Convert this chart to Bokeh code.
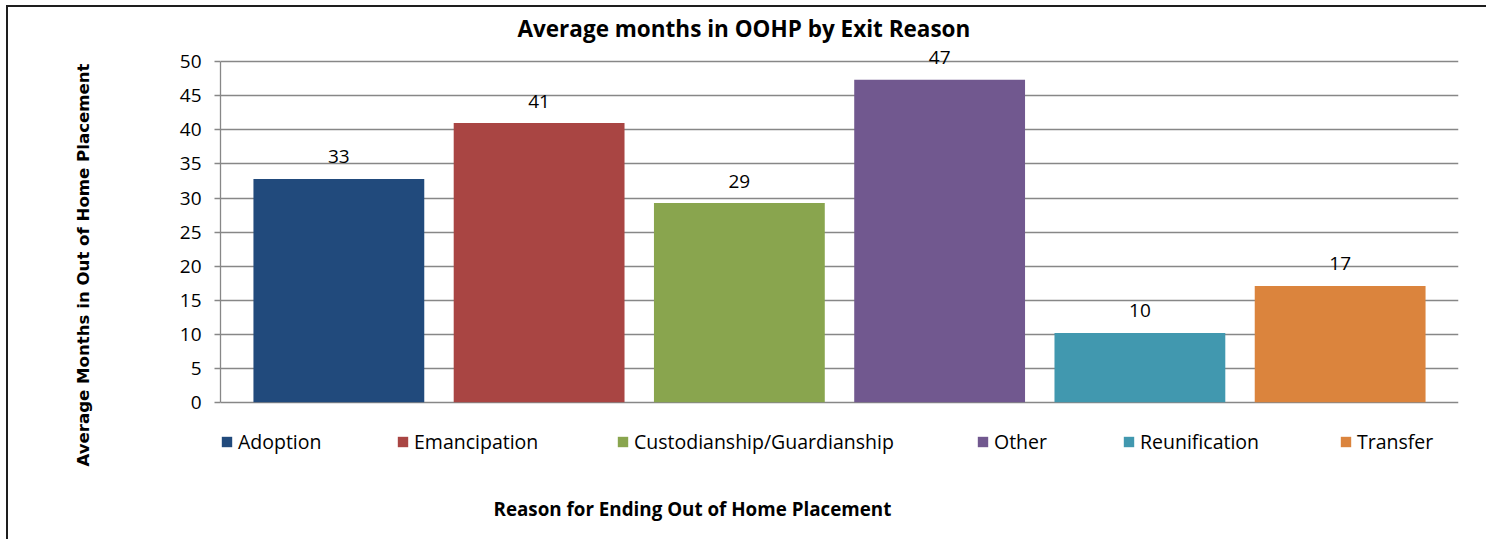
from bokeh.plotting import figure
from bokeh.models import (ColumnDataSource, FactorRange, Range1d, FixedTicker,
                          Legend, LegendItem, Title)
from bokeh.core.properties import value
from bokeh.embed import file_html
from bokeh.resources import INLINE

# ---- data ----
categories = ["Adoption", "Emancipation", "Custodianship/Guardianship",
              "Other", "Reunification", "Transfer"]
avg_months = [32.8, 41.0, 29.25, 47.35, 10.2, 17.1]
value_labels = ["33", "41", "29", "47", "10", "17"]
bar_colors = ["#214A7C", "#A94543", "#89A54E", "#71588F", "#4198AF", "#DB843D"]
y_ticks = [0, 5, 10, 15, 20, 25, 30, 35, 40, 45, 50]

title_text = "Average months in OOHP by Exit Reason"
y_title = "Average Months in Out of Home Placement"
x_title = "Reason for Ending Out of Home Placement"

src = ColumnDataSource(dict(cat=categories, val=avg_months,
                            lab=value_labels, color=bar_colors))

FONT = "Open Sans"
GRID = "#878787"

p = figure(width=1480, height=534,
           x_range=FactorRange(factors=categories, range_padding=0.091,
                               range_padding_units="absolute"),
           y_range=Range1d(-11.91, 52.24),
           output_backend="svg", toolbar_location=None,
           min_border_left=212, min_border_right=30,
           min_border_top=38, min_border_bottom=58,
           styles={"margin-left": "6px", "margin-top": "5px",
                   "border-top": "2px solid #1e1e1e",
                   "border-left": "2px solid #1e1e1e"})
p.outline_line_color = None
p.background_fill_color = "white"
p.border_fill_color = "white"

r = p.vbar(x="cat", top="val", width=0.853, source=src,
           fill_color="color", line_color=None)

p.text(x="cat", y="val", text="lab", source=src,
       text_align="center", text_baseline="alphabetic", y_offset=-22,
       text_font=value(FONT), text_font_size="19px", text_color="black")

# axes
p.xaxis.visible = False
p.xgrid.visible = False

yax = p.yaxis[0]
yax.ticker = FixedTicker(ticks=y_ticks)
yax.bounds = (0, 50)
yax.axis_line_color = GRID
yax.axis_line_width = 1.3
yax.major_tick_line_color = GRID
yax.major_tick_line_width = 1.3
yax.major_tick_out = 6
yax.major_tick_in = 0
yax.minor_tick_line_color = None
yax.major_label_standoff = 13
yax.major_label_text_font = FONT
yax.major_label_text_font_size = "19px"
yax.major_label_text_color = "black"
yax.axis_label = y_title
yax.axis_label_text_font = "DejaVu Sans"
yax.axis_label_text_font_style = "bold"
yax.axis_label_text_font_size = "16.6px"
yax.axis_label_text_color = "black"
yax.axis_label_standoff = 84

p.ygrid.grid_line_color = GRID
p.ygrid.grid_line_width = 1.3

# legends (one per entry, positioned like the original)
FRAME_LEFT = 220
legend_x = [220, 396, 616, 976, 1122, 1339]
legend_vy = 28
for i, cat in enumerate(categories):
    leg = Legend(items=[LegendItem(label=cat, renderers=[r], index=i)],
                 location=(legend_x[i] - FRAME_LEFT, legend_vy),
                 orientation="horizontal",
                 glyph_width=13, glyph_height=13, label_standoff=5,
                 padding=0, margin=0, spacing=0,
                 border_line_color=None, background_fill_alpha=0,
                 label_text_font=FONT, label_text_font_size="19.5px",
                 label_text_color="black")
    p.add_layout(leg)

p.add_layout(Title(text=title_text, align="left", offset=517 - FRAME_LEFT,
                   standoff=6, text_font=FONT, text_font_style="bold",
                   text_font_size="22.5px", text_color="black"), "above")

p.add_layout(Title(text=x_title, align="left", offset=493 - FRAME_LEFT,
                   standoff=21, text_font=FONT, text_font_style="bold",
                   text_font_size="18.8px", text_color="black"), "below")

open("out.html", "w").write(file_html(p, INLINE))
